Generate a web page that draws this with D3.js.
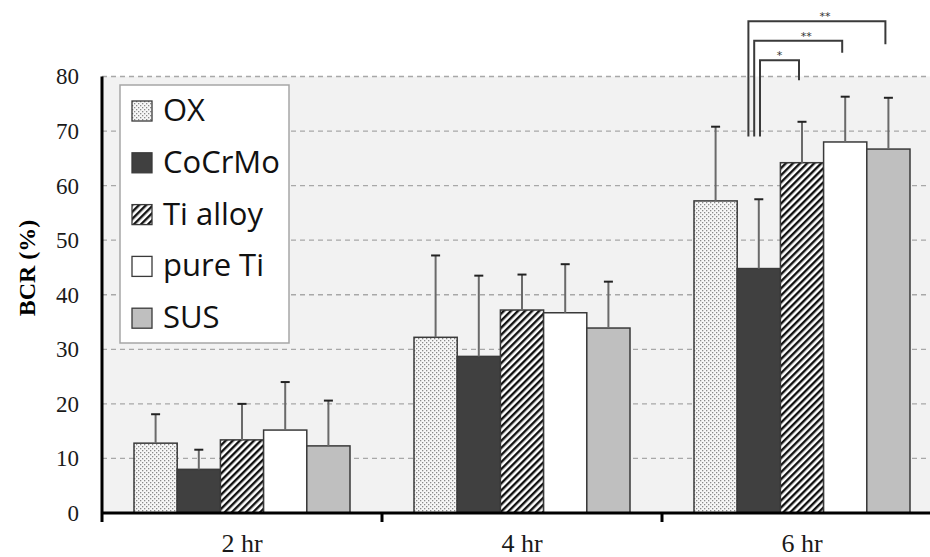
<!DOCTYPE html>
<html>
<head>
<meta charset="utf-8">
<script src="https://cdn.jsdelivr.net/npm/d3@7/dist/d3.min.js"></script>
<style>
  html, body { margin: 0; padding: 0; background: #fff; }
  svg { display: block; }
</style>
</head>
<body>
<svg id="chart" width="930" height="557"></svg>
<script>
// ---------------- data ----------------
const categories = ["2 hr", "4 hr", "6 hr"];
const series = ["OX", "CoCrMo", "Ti alloy", "pure Ti", "SUS"];
const meanOX      = [12.8, 32.2, 57.2];
const meanCoCrMo  = [8.0, 28.7, 44.8];
const meanTiAlloy = [13.4, 37.2, 64.2];
const meanPureTi  = [15.2, 36.7, 68.0];
const meanSUS     = [12.3, 33.9, 66.7];
const sdOX      = [5.3, 15.0, 13.6];
const sdCoCrMo  = [3.6, 14.8, 12.7];
const sdTiAlloy = [6.6, 6.5, 7.5];
const sdPureTi  = [8.8, 8.9, 8.3];
const sdSUS     = [8.3, 8.5, 9.4];
const yTicks = [0, 10, 20, 30, 40, 50, 60, 70, 80];
const sigCategory = "6 hr";
const sigFrom = "CoCrMo";
const sigTargets = ["Ti alloy", "pure Ti", "SUS"];
const sigLabels = ["*", "**", "**"];

(function () {
const means = [meanOX, meanCoCrMo, meanTiAlloy, meanPureTi, meanSUS];
const sds = [sdOX, sdCoCrMo, sdTiAlloy, sdPureTi, sdSUS];
const rows = [];
categories.forEach((c, ci) => series.forEach((s, si) => {
  rows.push({ cat: c, ser: s, mean: means[si][ci], sd: sds[si][ci] });
}));

// ---------------- layout ----------------
const svg = d3.select("#chart");
const pLeft = 102, pRight = 942, pTop = 76.5, pBottom = 513;
const x = d3.scaleBand().domain(categories).range([pLeft, pRight]).padding(0);
const xs = d3.scaleBand().domain(series).range([32, 248]).padding(0);
const y = d3.scaleLinear().domain([0, 80]).range([pBottom, pTop]);

// patterns
const defs = svg.append("defs");
const dots = defs.append("pattern").attr("id", "dots").attr("patternUnits", "userSpaceOnUse")
  .attr("width", 4).attr("height", 4);
dots.append("rect").attr("width", 4).attr("height", 4).attr("fill", "#f7f7f7");
dots.append("rect").attr("x", 0).attr("y", 0).attr("width", 1.3).attr("height", 1.3).attr("fill", "#8a8a8a");
dots.append("rect").attr("x", 2).attr("y", 2).attr("width", 1.3).attr("height", 1.3).attr("fill", "#8a8a8a");
const stripes = defs.append("pattern").attr("id", "stripes").attr("patternUnits", "userSpaceOnUse")
  .attr("width", 5).attr("height", 5).attr("patternTransform", "rotate(45)");
stripes.append("rect").attr("width", 5).attr("height", 5).attr("fill", "#ffffff");
stripes.append("rect").attr("x", 0).attr("y", 0).attr("width", 2.4).attr("height", 5).attr("fill", "#111");

const fills = { "OX": "url(#dots)", "CoCrMo": "#404040", "Ti alloy": "url(#stripes)", "pure Ti": "#ffffff", "SUS": "#bfbfbf" };

// background
svg.append("rect").attr("x", pLeft).attr("y", pTop).attr("width", pRight - pLeft).attr("height", pBottom - pTop)
  .attr("fill", "#f2f2f2");

// gridlines
svg.append("g").selectAll("line").data(yTicks.filter(t => t > 0)).join("line")
  .attr("x1", pLeft).attr("x2", pRight)
  .attr("y1", d => y(d)).attr("y2", d => y(d))
  .attr("stroke", "#a8a8a8").attr("stroke-width", 1.3).attr("stroke-dasharray", "5,4");

// y tick labels
const yAxis = svg.append("g").attr("transform", `translate(${pLeft},0)`)
  .call(d3.axisLeft(y).tickValues(yTicks).tickSize(0).tickPadding(23));
yAxis.select(".domain").remove();
yAxis.selectAll("text").attr("font-family", "'Liberation Serif', 'Times New Roman', serif")
  .attr("font-size", 23).attr("fill", "#1a1a1a");

// bars
const gBars = svg.append("g");
gBars.selectAll("rect").data(rows).join("rect")
  .attr("x", d => x(d.cat) + xs(d.ser))
  .attr("y", d => y(d.mean))
  .attr("width", xs.bandwidth())
  .attr("height", d => y(0) - y(d.mean))
  .attr("fill", d => fills[d.ser])
  .attr("stroke", "#3a3a3a").attr("stroke-width", 1.5);

// error bars
const gErr = svg.append("g");
gErr.selectAll("line.v").data(rows).join("line").attr("class", "v")
  .attr("x1", d => x(d.cat) + xs(d.ser) + xs.bandwidth() / 2)
  .attr("x2", d => x(d.cat) + xs(d.ser) + xs.bandwidth() / 2)
  .attr("y1", d => y(d.mean)).attr("y2", d => y(d.mean + d.sd))
  .attr("stroke", "#6a6a6a").attr("stroke-width", 2);
gErr.selectAll("line.c").data(rows).join("line").attr("class", "c")
  .attr("x1", d => x(d.cat) + xs(d.ser) + xs.bandwidth() / 2 - 4.5)
  .attr("x2", d => x(d.cat) + xs(d.ser) + xs.bandwidth() / 2 + 4.5)
  .attr("y1", d => y(d.mean + d.sd)).attr("y2", d => y(d.mean + d.sd))
  .attr("stroke", "#222").attr("stroke-width", 2);

// axes lines
svg.append("line").attr("x1", pLeft).attr("x2", pLeft).attr("y1", pTop).attr("y2", pBottom + 9)
  .attr("stroke", "#000").attr("stroke-width", 3);
svg.append("line").attr("x1", pLeft).attr("x2", pRight).attr("y1", pBottom).attr("y2", pBottom)
  .attr("stroke", "#000").attr("stroke-width", 3);
const xAxis = svg.append("g").attr("transform", `translate(0,${pBottom})`);
xAxis.selectAll("line").data(categories.slice(1).map(c => x(c)).concat([pRight])).join("line")
  .attr("x1", d => d).attr("x2", d => d).attr("y1", 0).attr("y2", 9)
  .attr("stroke", "#000").attr("stroke-width", 3);
xAxis.selectAll("text").data(categories).join("text")
  .attr("x", d => x(d) + x.bandwidth() / 2).attr("y", 39)
  .attr("text-anchor", "middle")
  .attr("font-family", "'Liberation Serif', 'Times New Roman', serif")
  .attr("font-size", 26).attr("fill", "#1a1a1a")
  .text(d => d);

// y title
svg.append("text")
  .attr("transform", "translate(35,268) rotate(-90)")
  .attr("text-anchor", "middle")
  .attr("font-family", "'Liberation Serif', 'Times New Roman', serif")
  .attr("font-weight", "bold").attr("font-size", 24).attr("fill", "#000")
  .text("BCR (%)");

// legend
const lg = svg.append("g");
lg.append("rect").attr("x", 120).attr("y", 85).attr("width", 169).attr("height", 258)
  .attr("fill", "#fff").attr("stroke", "#a6a6a6").attr("stroke-width", 1.5);
const li = lg.selectAll("g.item").data(series).join("g").attr("class", "item")
  .attr("transform", (d, i) => `translate(132,${121 + i * 51.8})`);
li.append("rect").attr("x", 0).attr("y", -20).attr("width", 20).attr("height", 20)
  .attr("fill", d => fills[d]).attr("stroke", "#3a3a3a").attr("stroke-width", 1.3);
li.append("text").attr("x", 31).attr("y", 0)
  .attr("font-family", "'Open Sans', 'Noto Sans', sans-serif")
  .attr("font-size", 31).attr("fill", "#111")
  .text(d => d);

// significance brackets
const fromX = x(sigCategory) + xs(sigFrom) + xs.bandwidth() / 2;
const dropLen = [20, 12, 23];
const gSig = svg.append("g");
sigTargets.forEach((t, i) => {
  const lx = fromX + 1.2 - i * 5.8;
  const rx = x(sigCategory) + xs(t) + xs.bandwidth() / 2 - 3;
  const hy = y(83) - i * 19.5;
  const by = 136.5;
  gSig.append("path")
    .attr("d", `M${lx},${by} V${hy} H${rx} V${hy + dropLen[i]}`)
    .attr("fill", "none").attr("stroke", "#3a3a3a").attr("stroke-width", 2);
  gSig.append("text")
    .attr("x", (lx + rx) / 2 + (sigLabels[i].length > 1 ? 8 : 0)).attr("y", hy - 1)
    .attr("text-anchor", "middle")
    .attr("font-family", "'DejaVu Sans', sans-serif").attr("font-size", 11).attr("fill", "#333")
    .text(sigLabels[i]);
});
})();
</script>
</body>
</html>
